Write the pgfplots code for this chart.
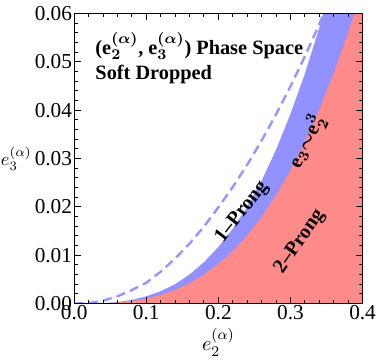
\documentclass[border=0pt]{standalone}
\usepackage{pgfplots}
\pgfplotsset{compat=1.18}
\usepackage{fontspec}
\setmainfont{Liberation Serif}

\definecolor{twoprong}{RGB}{255,138,138}
\definecolor{band}{RGB}{145,145,255}
\definecolor{dashblue}{RGB}{150,150,255}

\begin{document}
\begin{tikzpicture}
\begin{axis}[
    scale only axis,
    width=156pt,
    height=157pt,
    xmin=0, xmax=0.4,
    ymin=0, ymax=0.06,
    xtick={0,0.1,0.2,0.3,0.4},
    ytick={0,0.01,0.02,0.03,0.04,0.05,0.06},
    minor x tick num=4,
    minor y tick num=4,
    tick align=inside,
    major tick length=3.5pt,
    minor tick length=2pt,
    tick style={black, line width=0.5pt},
    axis line style={line width=0.6pt},
    xticklabel style={inner ysep=0.8pt, /pgf/number format/.cd, fixed, fixed zerofill, precision=1, assume math mode=true},
    yticklabel style={inner xsep=1pt, /pgf/number format/.cd, fixed, fixed zerofill, precision=2, assume math mode=true},
    scaled y ticks=false,
    scaled x ticks=false,
    tick label style={font=\fontsize{11.5}{13}\selectfont},
    xlabel={$e_2^{(\alpha)}$},
    ylabel={$e_3^{(\alpha)}$},
    label style={font=\fontsize{11}{12}\selectfont},
    xlabel style={yshift=-0.5pt},
    every axis y label/.style={at={(ticklabel cs:0.5)}, anchor=east, inner xsep=0.5pt},
    axis on top,
]
% e3 ~ e2^3 band (upper edge)
\addplot[draw=none, fill=band] coordinates {
(0,0)(0.02,0.0000116)(0.04,0.0000928)(0.06,0.000313)(0.08,0.000742)
(0.10,0.00150)(0.12,0.00255)(0.14,0.00402)(0.16,0.00600)(0.18,0.00855)
(0.20,0.0117)(0.22,0.0155)(0.24,0.0200)(0.26,0.0254)(0.28,0.0318)
(0.30,0.0392)(0.32,0.0475)(0.34,0.0570)(0.36,0.0677)
(0.4,0.07)(0.4,0)
} -- cycle;
% 2-prong region
\addplot[draw=none, fill=twoprong] coordinates {
(0,0)(0.02,0.0000082)(0.04,0.0000653)(0.06,0.000220)(0.08,0.000522)
(0.10,0.00105)(0.12,0.00178)(0.14,0.00282)(0.16,0.00420)(0.18,0.00598)
(0.20,0.00820)(0.22,0.0109)(0.24,0.0141)(0.26,0.0179)(0.28,0.0224)
(0.30,0.0275)(0.32,0.0334)(0.34,0.0401)(0.36,0.0476)(0.38,0.0560)
(0.40,0.0653)(0.4,0)
} -- cycle;
% dashed boundary
\addplot[dashblue, line width=1.3pt, dash pattern=on 5pt off 2.8pt] coordinates {
(0,0)(0.02,0.0001)(0.04,0.0006)(0.06,0.0015)(0.08,0.0028)
(0.10,0.0043)(0.12,0.0066)(0.14,0.0093)(0.16,0.0124)(0.18,0.0159)
(0.20,0.0199)(0.22,0.0241)(0.24,0.0287)(0.26,0.0337)(0.28,0.0391)
(0.30,0.0449)(0.32,0.0511)(0.34,0.0578)(0.35,0.0612)
};
\node[anchor=north west, align=left, font=\bfseries\boldmath\fontsize{11}{13.5}\selectfont, inner sep=0pt]
    at (axis cs:0.029,0.0561) {(e$_2^{(\alpha)}$, e$_3^{(\alpha)}$) Phase Space\\Soft Dropped};
\node[rotate=52, font=\bfseries\fontsize{11}{12}\selectfont, inner sep=0pt] at (axis cs:0.233,0.0189) {1\textendash Prong};
\node[rotate=55, font=\bfseries\fontsize{11}{12}\selectfont, inner sep=0pt] at (axis cs:0.313,0.0128) {2\textendash Prong};
\node[rotate=64, font=\bfseries\boldmath\fontsize{11}{12}\selectfont, inner sep=0pt] at (axis cs:0.323,0.0334) {e$_3$$\sim$e$_2^3$};
\end{axis}
\end{tikzpicture}
\end{document}
